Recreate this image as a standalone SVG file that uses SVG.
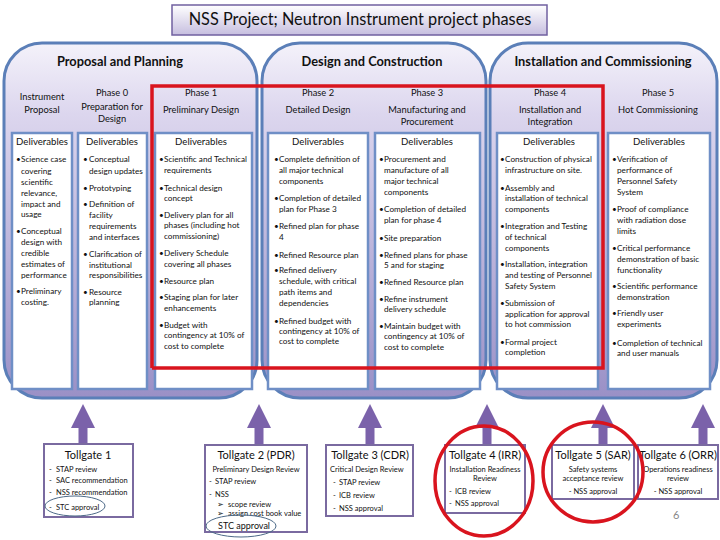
<svg xmlns="http://www.w3.org/2000/svg" xmlns:xlink="http://www.w3.org/1999/xlink" width="720" height="540" viewBox="0 0 720 540">
<defs>
<linearGradient id="pg" x1="0" y1="0" x2="0" y2="1">
<stop offset="0" stop-color="#f4f2fa"/><stop offset="0.2" stop-color="#dcd6ee"/><stop offset="1" stop-color="#9a90c6"/>
</linearGradient>
<linearGradient id="tg" x1="0" y1="0" x2="0" y2="1">
<stop offset="0" stop-color="#ffffff"/><stop offset="1" stop-color="#c6bedf"/>
</linearGradient>
<path id="arr" d="M0,404 L12,428 L4.5,428 L4.5,444 L-4.5,444 L-4.5,428 L-12,428 Z"/>
<style>
text{font-family:Lato,"Liberation Sans",sans-serif;fill:#111}
.ttl{font-size:16.3px;text-anchor:middle}
.pt{font-size:12.8px;font-weight:bold;text-anchor:middle}
.ph{font-size:9.3px;text-anchor:middle}
.dl{font-size:9.6px;text-anchor:middle}
.t{font-size:8.2px}
.panel{fill:url(#pg);stroke:#5b7fb8;stroke-width:3}
.box{fill:#fff;stroke:#6f8fc6;stroke-width:2.5}
.gate{fill:#fff;stroke:#7a6aa0;stroke-width:2}
.gt{font-size:11px;text-anchor:middle}
.gi{font-size:7.5px}
.gc{font-size:7.5px;text-anchor:middle}
.red{fill:none;stroke:#d9141e;stroke-width:3.5}
.ell{fill:none;stroke:#4d6a88;stroke-width:1}
.arrow{fill:#7b62aa}
</style>
</defs>
<rect width="720" height="540" fill="#fff"/>
<g id="title">
<rect x="172" y="5" width="375" height="30" fill="url(#tg)" stroke="#7060a0" stroke-width="1.5"/>
<text class="ttl" x="360" y="25">NSS Project; Neutron Instrument project phases</text>
</g>
<g id="panel-proposal">
<rect class="panel" x="4" y="43" width="253" height="355" rx="38"/>
<text class="pt" x="120" y="66">Proposal and Planning</text>
</g>
<g id="panel-design">
<rect class="panel" x="262" y="43" width="224" height="355" rx="38"/>
<text class="pt" x="372" y="66">Design and Construction</text>
</g>
<g id="panel-install">
<rect class="panel" x="490" y="43" width="227" height="355" rx="38"/>
<text class="pt" x="603" y="66">Installation and Commissioning</text>
</g>
<g id="col-ip">
<text class="ph" x="42" y="100">Instrument</text><text class="ph" x="42" y="113">Proposal</text>
<rect class="box" x="12" y="133" width="60" height="256"/>
<text class="dl" x="42" y="145">Deliverables</text>
<g class="t">
<text x="16" y="161.5">•</text><text x="21" y="161.5">Science case</text><text x="21" y="173.5">covering</text><text x="21" y="184.5">scientific</text><text x="21" y="195.5">relevance,</text><text x="21" y="206.5">impact and</text><text x="21" y="216.5">usage</text>
<text x="16" y="233.5">•</text><text x="21" y="233.5">Conceptual</text><text x="21" y="244.5">design with</text><text x="21" y="255.5">credible</text><text x="21" y="266.5">estimates of</text><text x="21" y="277.5">performance</text>
<text x="16" y="293.5">•</text><text x="21" y="293.5">Preliminary</text><text x="21" y="304.5">costing.</text>
</g>
</g>
<g id="col-p0">
<text class="ph" x="112" y="96">Phase 0</text><text class="ph" x="112" y="110">Preparation for</text><text class="ph" x="112" y="122">Design</text>
<rect class="box" x="78" y="133" width="69" height="256"/>
<text class="dl" x="112" y="145">Deliverables</text>
<g class="t">
<text x="83" y="161.5">•</text><text x="89" y="161.5">Conceptual</text><text x="89" y="173.5">design updates</text>
<text x="83" y="190.5">•</text><text x="89" y="190.5">Prototyping</text>
<text x="83" y="206.5">•</text><text x="89" y="206.5">Definition of</text><text x="89" y="217.5">facility</text><text x="89" y="228.5">requirements</text><text x="89" y="239.5">and interfaces</text>
<text x="83" y="256.5">•</text><text x="89" y="256.5">Clarification of</text><text x="89" y="267.5">institutional</text><text x="89" y="277.5">responsibilities</text>
<text x="83" y="294.5">•</text><text x="89" y="294.5">Resource</text><text x="89" y="304.5">planning</text>
</g>
</g>
<g id="col-p1">
<text class="ph" x="201" y="96">Phase 1</text><text class="ph" x="201" y="113">Preliminary Design</text>
<rect class="box" x="155" y="133" width="97" height="256"/>
<text class="dl" x="201" y="145">Deliverables</text>
<g class="t">
<text x="159" y="161.5">•</text><text x="164" y="161.5">Scientific and Technical</text><text x="164" y="172.5">requirements</text>
<text x="159" y="190.5">•</text><text x="164" y="190.5">Technical design</text><text x="164" y="200.5">concept</text>
<text x="159" y="217.5">•</text><text x="164" y="217.5">Delivery plan for all</text><text x="164" y="227.5">phases (including hot</text><text x="164" y="238.5">commissioning)</text>
<text x="159" y="255.5">•</text><text x="164" y="255.5">Delivery Schedule</text><text x="164" y="266.5">covering all phases</text>
<text x="159" y="283.5">•</text><text x="164" y="283.5">Resource plan</text>
<text x="159" y="299.5">•</text><text x="164" y="299.5">Staging plan for later</text><text x="164" y="310.5">enhancements</text>
<text x="159" y="327.5">•</text><text x="164" y="327.5">Budget with</text><text x="164" y="337.5">contingency at 10% of</text><text x="164" y="348.5">cost to complete</text>
</g>
</g>
<g id="col-p2">
<text class="ph" x="318" y="96">Phase 2</text><text class="ph" x="318" y="113">Detailed Design</text>
<rect class="box" x="268" y="133" width="100" height="256"/>
<text class="dl" x="318" y="145">Deliverables</text>
<g class="t">
<text x="274" y="161.5">•</text><text x="279" y="161.5">Complete definition of</text><text x="279" y="172.5">all major technical</text><text x="279" y="183.5">components</text>
<text x="274" y="200.5">•</text><text x="279" y="200.5">Completion of detailed</text><text x="279" y="211.5">plan for Phase 3</text>
<text x="274" y="228.5">•</text><text x="279" y="228.5">Refined plan for phase</text><text x="279" y="239.5">4</text>
<text x="274" y="257.5">•</text><text x="279" y="257.5">Refined Resource plan</text>
<text x="274" y="272.5">•</text><text x="279" y="272.5">Refined delivery</text><text x="279" y="283.5">schedule, with critical</text><text x="279" y="294.5">path items and</text><text x="279" y="305.5">dependencies</text>
<text x="274" y="323.5">•</text><text x="279" y="323.5">Refined budget with</text><text x="279" y="333.5">contingency at 10% of</text><text x="279" y="343.5">cost to complete</text>
</g>
</g>
<g id="col-p3">
<text class="ph" x="427" y="96">Phase 3</text><text class="ph" x="427" y="113">Manufacturing and</text><text class="ph" x="427" y="125">Procurement</text>
<rect class="box" x="375" y="133" width="105" height="256"/>
<text class="dl" x="427" y="145">Deliverables</text>
<g class="t">
<text x="379" y="161.5">•</text><text x="384" y="161.5">Procurement and</text><text x="384" y="172.5">manufacture of all</text><text x="384" y="183.5">major technical</text><text x="384" y="194.5">components</text>
<text x="379" y="211.5">•</text><text x="384" y="211.5">Completion of detailed</text><text x="384" y="222.5">plan for phase 4</text>
<text x="379" y="240.5">•</text><text x="384" y="240.5">Site preparation</text>
<text x="379" y="257.5">•</text><text x="384" y="257.5">Refined plans for phase</text><text x="384" y="267.5">5 and for staging</text>
<text x="379" y="284.5">•</text><text x="384" y="284.5">Refined Resource plan</text>
<text x="379" y="301.5">•</text><text x="384" y="301.5">Refine instrument</text><text x="384" y="311.5">delivery schedule</text>
<text x="379" y="328.5">•</text><text x="384" y="328.5">Maintain budget with</text><text x="384" y="338.5">contingency at 10% of</text><text x="384" y="349.5">cost to complete</text>
</g>
</g>
<g id="col-p4">
<text class="ph" x="550" y="96">Phase 4</text><text class="ph" x="550" y="113">Installation and</text><text class="ph" x="550" y="125">Integration</text>
<rect class="box" x="497" y="133" width="101" height="256"/>
<text class="dl" x="549" y="145">Deliverables</text>
<g class="t">
<text x="500" y="161.5">•</text><text x="505" y="161.5">Construction of physical</text><text x="505" y="172.5">infrastructure on site.</text>
<text x="500" y="190.5">•</text><text x="505" y="190.5">Assembly and</text><text x="505" y="200.5">installation of technical</text><text x="505" y="211.5">components</text>
<text x="500" y="228.5">•</text><text x="505" y="228.5">Integration and Testing</text><text x="505" y="239.5">of technical</text><text x="505" y="250.5">components</text>
<text x="500" y="266.5">•</text><text x="505" y="266.5">Installation, integration</text><text x="505" y="277.5">and testing of Personnel</text><text x="505" y="288.5">Safety System</text>
<text x="500" y="305.5">•</text><text x="505" y="305.5">Submission of</text><text x="505" y="316.5">application for approval</text><text x="505" y="326.5">to hot commission</text>
<text x="500" y="344.5">•</text><text x="505" y="344.5">Formal project</text><text x="505" y="354.5">completion</text>
</g>
</g>
<g id="col-p5">
<text class="ph" x="658" y="96">Phase 5</text><text class="ph" x="658" y="113">Hot Commissioning</text>
<rect class="box" x="608" y="133" width="102" height="256"/>
<text class="dl" x="659" y="145">Deliverables</text>
<g class="t">
<text x="612" y="161.5">•</text><text x="617" y="161.5">Verification of</text><text x="617" y="172.5">performance of</text><text x="617" y="183.5">Personnel Safety</text><text x="617" y="194.5">System</text>
<text x="612" y="211.5">•</text><text x="617" y="211.5">Proof of compliance</text><text x="617" y="222.5">with radiation dose</text><text x="617" y="233.5">limits</text>
<text x="612" y="250.5">•</text><text x="617" y="250.5">Critical performance</text><text x="617" y="261.5">demonstration of basic</text><text x="617" y="272.5">functionality</text>
<text x="612" y="288.5">•</text><text x="617" y="288.5">Scientific performance</text><text x="617" y="299.5">demonstration</text>
<text x="612" y="315.5">•</text><text x="617" y="315.5">Friendly user</text><text x="617" y="326.5">experiments</text>
<text x="612" y="345.5">•</text><text x="617" y="345.5">Completion of technical</text><text x="617" y="355.5">and user manuals</text>
</g>
</g>
<g id="phase-highlight">
<polyline class="red" points="152,368 152,86 603,86 603,368 152,368"/>
</g>
<g id="connectors">
<use href="#arr" x="83" class="arrow"/>
<use href="#arr" x="259" class="arrow"/>
<use href="#arr" x="370" class="arrow"/>
<use href="#arr" x="487" class="arrow"/>
<use href="#arr" x="603" class="arrow"/>
<use href="#arr" x="703" class="arrow"/>
</g>
<g id="tollgate1">
<rect class="gate" x="44" y="444" width="89" height="73"/>
<text class="gt" x="88" y="459">Tollgate 1</text>
<text class="gi" x="49" y="471.5">-</text><text class="gi" x="56" y="471.5">STAP review</text>
<text class="gi" x="49" y="482.5">-</text><text class="gi" x="56" y="482.5">SAC recommendation</text>
<text class="gi" x="49" y="494.5">-</text><text class="gi" x="56" y="494.5">NSS recommendation</text>
<text class="gi" x="49" y="509.5">-</text><text class="gi" x="56" y="509.5">STC approval</text>
<ellipse class="ell" cx="75" cy="506" rx="30" ry="10"/>
</g>
<g id="tollgate2">
<rect class="gate" x="205" y="445" width="102" height="87"/>
<text class="gt" x="256" y="459">Tollgate 2 (PDR)</text>
<text class="gc" x="256" y="471.5">Preliminary Design Review</text>
<text class="gi" x="209" y="483.5">-</text><text class="gi" x="215" y="483.5">STAP review</text>
<text class="gi" x="209" y="496.5">-</text><text class="gi" x="215" y="496.5">NSS</text>
<text class="gi" x="217" y="507">➢</text><text class="gi" x="228" y="507">scope review</text>
<text class="gi" x="217" y="516">➢</text><text class="gi" x="228" y="516">assign cost book value</text>
<text x="218" y="529" font-size="9">STC approval</text>
<ellipse class="ell" cx="241" cy="526" rx="35" ry="11"/>
</g>
<g id="tollgate3">
<rect class="gate" x="326" y="445" width="87" height="71"/>
<text class="gt" x="370" y="459">Tollgate 3 (CDR)</text>
<text class="gi" x="330" y="471.5">Critical Design Review</text>
<text class="gi" x="333" y="484.5">-</text><text class="gi" x="339" y="484.5">STAP review</text>
<text class="gi" x="333" y="497.5">-</text><text class="gi" x="339" y="497.5">ICB review</text>
<text class="gi" x="333" y="510.5">-</text><text class="gi" x="339" y="510.5">NSS approval</text>
</g>
<g id="tollgate4">
<rect class="gate" x="445" y="445" width="80" height="68"/>
<text class="gt" x="485" y="459">Tollgate 4 (IRR)</text>
<text class="gc" x="485" y="471.5">Installation Readiness</text>
<text class="gc" x="485" y="480.5">Review</text>
<text class="gi" x="449" y="493.5">-</text><text class="gi" x="455" y="493.5">ICB review</text>
<text class="gi" x="449" y="505.5">-</text><text class="gi" x="455" y="505.5">NSS approval</text>
<ellipse class="red" cx="484" cy="481" rx="49" ry="55" stroke-width="3"/>
</g>
<g id="tollgate5">
<rect class="gate" x="552" y="445" width="82" height="54"/>
<text class="gt" x="593" y="459">Tollgate 5 (SAR)</text>
<text class="gc" x="593" y="471.5">Safety systems</text>
<text class="gc" x="593" y="480.5">acceptance review</text>
<text class="gc" x="593" y="493.5">-  NSS approval</text>
</g>
<g id="tollgate6">
<rect class="gate" x="638" y="445" width="80" height="54"/>
<text class="gt" x="678" y="459">Tollgate 6 (ORR)</text>
<text class="gc" x="678" y="471.5">Operations readiness</text>
<text class="gc" x="678" y="480.5">review</text>
<text class="gc" x="678" y="493.5">-  NSS approval</text>
</g>
<ellipse class="red" cx="593" cy="472" rx="50" ry="50" stroke-width="3"/>
<text x="673" y="519" font-size="11" fill="#888" style="fill:#888">6</text>
</svg>
